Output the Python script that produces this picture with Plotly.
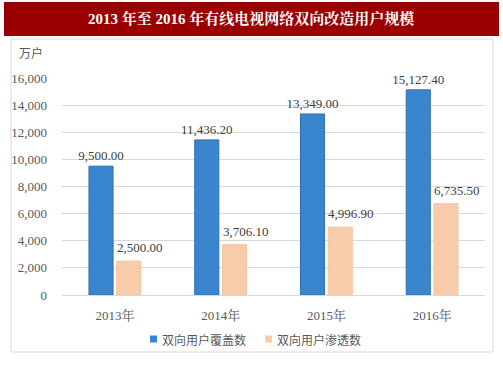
import plotly.graph_objects as go

categories = ["2013年", "2014年", "2015年", "2016年"]
coverage = [9500.00, 11436.20, 13349.00, 15127.40]
penetration = [2500.00, 3706.10, 4996.90, 6735.50]
series_names = ["双向用户覆盖数", "双向用户渗透数"]
y_ticks = [0, 2000, 4000, 6000, 8000, 10000, 12000, 14000, 16000]
y_tick_labels = ["0", "2,000", "4,000", "6,000", "8,000", "10,000", "12,000", "14,000", "16,000"]
title_text = "2013 年至 2016 年有线电视网络双向改造用户规模"
unit_text = "万户"
colors = ["#3A86CE", "#F8CBAA"]
edge_colors = ["#2E6FB0", "#F5C3A0"]

W, H = 503, 378
L, R, T, B = 62, 485, 78, 295
def px(x): return (x - L) / (R - L)
def py(y): return (B - y) / (B - T)

FONT = "Liberation Serif, 'Noto Serif CJK SC', 'Noto Sans CJK SC', serif"
CJK = "'Noto Sans CJK SC', sans-serif"
LABEL_FONT = dict(family=FONT, size=13, color="#404040")

fig = go.Figure()
fig.add_trace(go.Bar(
    x=categories, y=coverage, name=series_names[0],
    marker=dict(color=colors[0], line=dict(color=edge_colors[0], width=1)),
    texttemplate="%{y:,.2f}", textposition="outside", cliponaxis=False,
    constraintext="none", textfont=LABEL_FONT,
))
fig.add_trace(go.Bar(
    x=categories, y=penetration, name=series_names[1],
    marker=dict(color=colors[1], line=dict(color=edge_colors[1], width=1)),
))

shapes = [
    dict(type="rect", xref="paper", yref="paper", x0=px(4), x1=px(499), y0=py(36), y1=py(2),
         fillcolor="#9B0000", line=dict(width=0), layer="below"),
    dict(type="rect", xref="paper", yref="paper", x0=px(11), x1=px(493), y0=py(352), y1=py(39),
         fillcolor="rgba(0,0,0,0)", line=dict(color="#D9D9D9", width=1), layer="below"),
]

annotations = [
    dict(text="<b>" + title_text + "</b>", xref="paper", yref="paper", x=px(251), y=py(19),
         showarrow=False, xanchor="center", yanchor="middle",
         font=dict(family=FONT, size=15, color="white")),
    dict(text=unit_text, xref="paper", yref="paper", x=px(31), y=py(53),
         showarrow=False, xanchor="center", yanchor="middle",
         font=dict(family=CJK, size=12, color="#595959")),
]

# value labels of second series (slightly offset to the right, as in the original)
for cat, v in zip(categories, penetration):
    annotations.append(dict(text=f"{v:,.2f}", x=cat, y=v, xref="x", yref="y",
                            showarrow=False, xanchor="center", yanchor="bottom",
                            xshift=25, yshift=4, font=LABEL_FONT))

legend_x = [150, 265]
for lx, name, c in zip(legend_x, series_names, colors):
    shapes.append(dict(type="rect", xref="paper", yref="paper",
                       x0=px(lx), x1=px(lx + 7), y0=py(342.5), y1=py(335.5),
                       fillcolor=c, line=dict(width=0)))
    annotations.append(dict(text=name, xref="paper", yref="paper", x=px(lx + 10), y=py(339),
                            showarrow=False, xanchor="left", yanchor="middle",
                            font=dict(family=CJK, size=12, color="#595959")))

fig.update_layout(
    width=W, height=H,
    margin=dict(l=L, r=W - R, t=T, b=H - B, pad=0),
    paper_bgcolor="white", plot_bgcolor="white",
    barmode="group", bargap=0.476, bargroupgap=0.13,
    showlegend=False,
    shapes=shapes, annotations=annotations,
    xaxis=dict(tickfont=dict(family=FONT, size=13, color="#595959"), showline=True,
               linecolor="#D9D9D9", ticks="", showgrid=False, automargin=False,
               ticklabelstandoff=8),
    yaxis=dict(range=[0, 16000], tickvals=y_ticks, ticktext=y_tick_labels,
               tickfont=dict(family=FONT, size=13, color="#595959"),
               showgrid=True, gridcolor="#D9D9D9", gridwidth=1, zeroline=False,
               showline=False, ticks="", ticklabelstandoff=14, automargin=False),
)

fig.write_html("out.html", config={"displayModeBar": False},
               post_script="document.body.style.margin='0px';")
